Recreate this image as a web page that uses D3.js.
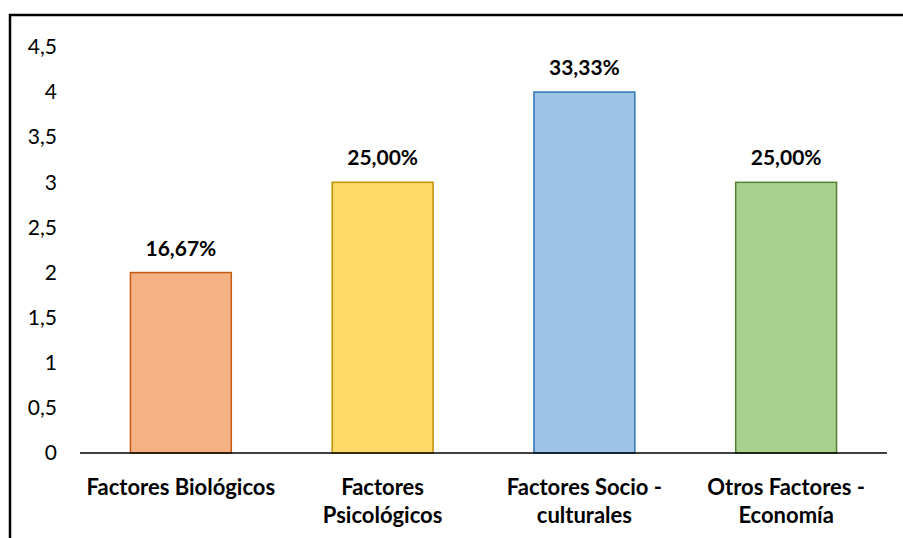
<!DOCTYPE html>
<html>
<head>
<meta charset="utf-8">
<script src="https://cdn.jsdelivr.net/npm/d3@7"></script>
<style>
  body { margin: 0; background: #fff; }
  svg text { font-family: Lato, "Noto Sans", sans-serif; }
</style>
</head>
<body>
<svg id="chart" width="903" height="538"></svg>
<script>
// chart data
var categories = [["Factores Biológicos"], ["Factores", "Psicológicos"], ["Factores Socio -", "culturales"], ["Otros Factores -", "Economía"]];
var values = [2, 3, 4, 3];
var labels = ["16,67%", "25,00%", "33,33%", "25,00%"];
var yTicks = [0, 0.5, 1, 1.5, 2, 2.5, 3, 3.5, 4, 4.5];
var fills = ["#F4B183", "#FFD966", "#9DC3E6", "#A9D18E"];
var strokes = ["#C55A11", "#BF9000", "#2E75B6", "#538135"];

var svg = d3.select("#chart");
var mLeft = 80, mRight = 887, mTop = 47, mBottom = 453;

// outer frame (right/bottom edges run off the picture)
svg.append("rect")
	.attr("x", 10).attr("y", 15)
	.attr("width", 1000).attr("height", 1000)
	.attr("fill", "none").attr("stroke", "#000").attr("stroke-width", 2.5);

var x = d3.scaleBand().domain(d3.range(values.length)).range([mLeft, mRight])
	.paddingInner(0.5).paddingOuter(0.25);
var y = d3.scaleLinear().domain([0, 4.5]).range([mBottom, mTop]);

// y tick labels
var yAxis = d3.axisLeft(y).tickValues(yTicks).tickSize(0).tickPadding(0)
	.tickFormat(function(d) { return String(d).replace(".", ","); });
var ya = svg.append("g").attr("transform", "translate(57,0)").call(yAxis);
ya.select(".domain").remove();
ya.selectAll("text").attr("font-size", 21).attr("fill", "#000")
	.style("font-family", "Lato, 'Noto Sans', sans-serif");

// bars
svg.selectAll("rect.bar").data(values).enter().append("rect")
	.attr("class", "bar")
	.attr("x", function(d, i) { return x(i); })
	.attr("y", function(d) { return y(d); })
	.attr("width", x.bandwidth())
	.attr("height", function(d) { return mBottom - y(d); })
	.attr("fill", function(d, i) { return fills[i]; })
	.attr("stroke", function(d, i) { return strokes[i]; })
	.attr("stroke-width", 1.5);

// baseline
svg.append("line").attr("x1", mLeft).attr("x2", mRight)
	.attr("y1", mBottom).attr("y2", mBottom)
	.attr("stroke", "#000").attr("stroke-width", 1.5);

// value labels
svg.selectAll("text.val").data(values).enter().append("text")
	.attr("class", "val")
	.attr("x", function(d, i) { return x(i) + x.bandwidth() / 2; })
	.attr("y", function(d) { return y(d) - 17; })
	.attr("text-anchor", "middle")
	.attr("font-size", 21).attr("font-weight", "bold")
	.text(function(d, i) { return labels[i]; });

// category labels
var cat = svg.selectAll("text.cat").data(categories).enter().append("text")
	.attr("class", "cat")
	.attr("text-anchor", "middle")
	.attr("font-size", 22).attr("font-weight", "bold");
cat.each(function(lines, i) {
	var t = d3.select(this);
	lines.forEach(function(s, j) {
		t.append("tspan")
			.attr("x", x(i) + x.bandwidth() / 2)
			.attr("y", 495 + j * 28)
			.text(s);
	});
});
</script>
</body>
</html>
